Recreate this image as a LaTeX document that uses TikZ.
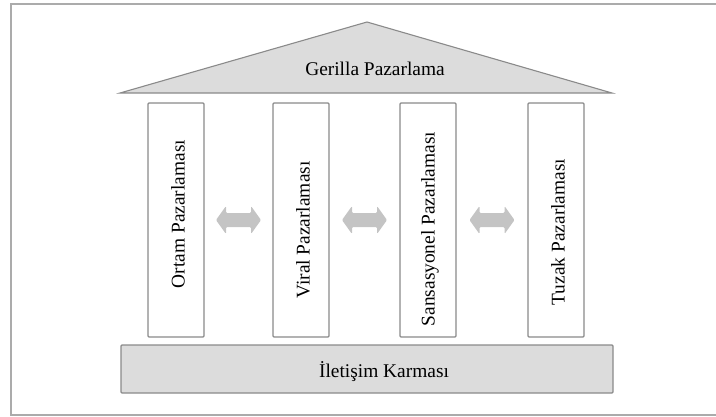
\documentclass[tikz,border=0pt]{standalone}
\usepackage{fontspec}
\setmainfont{Liberation Serif}
\usetikzlibrary{calc}
\definecolor{edgegray}{HTML}{8A8A8A}
\definecolor{panelgray}{HTML}{DCDCDC}
\definecolor{arrowgray}{HTML}{C4C4C4}
\definecolor{framegray}{HTML}{ABABAB}
\tikzset{
  label text/.style={font=\fontsize{19.4}{22}\selectfont, text=black, inner sep=0pt},
  pillar/.style={draw=edgegray, line width=1.1pt, fill=white, rounded corners=1pt,
                 minimum width=56pt, minimum height=234pt, inner sep=0pt},
  panel/.style={draw=edgegray, line width=1.1pt, fill=panelgray},
  % block double arrow, centred on the pic's position
  pics/linkarrow/.style={code={
    \fill[arrowgray, rounded corners=1.2pt]
      (-22.5,0) -- (-12.5,-14) -- (-12.5,-7) -- (12.5,-7) -- (12.5,-14)
      -- (22.5,0) -- (12.5,14) -- (12.5,7) -- (-12.5,7) -- (-12.5,14) -- cycle;
  }}
}
\begin{document}
\begin{tikzpicture}[x=1pt, y=-1pt]
\useasboundingbox (0,0) rectangle (716,416);
% outer frame (open on the right)
\draw[framegray, line width=1.6pt] (740,4) -- (11,4) -- (11,415) -- (740,415);
% roof
\coordinate (apex) at (367,22);
\coordinate (eaveL) at (120,93);
\coordinate (eaveR) at (612,93);
\draw[panel, line join=miter] (eaveL) -- (apex) -- (eaveR) -- cycle;
\node[label text, anchor=base] (roof) at (375,75) {Gerilla Pazarlama};
% pillars
\node[pillar] (p1) at (176,220) {};
\node[pillar] (p2) at (301,220) {};
\node[pillar] (p3) at (428,220) {};
\node[pillar] (p4) at (556,220) {};
\node[label text, rotate=90] (t1) at (178,214) {Ortam Pazarlaması};
\node[label text, rotate=90] (t2) at (303,230) {Viral Pazarlaması};
\node[label text, rotate=90] (t3) at (430,229) {Sansasyonel Pazarlaması};
\node[label text, rotate=90] (t4) at (558,232) {Tuzak Pazarlaması};
% links between pillars
\coordinate (a12) at ($(p1.east)!0.5!(p2.west)$);
\coordinate (a23) at ($(p2.east)!0.5!(p3.west)$);
\coordinate (a34) at ($(p3.east)!0.5!(p4.west)$);
\pic at (a12) {linkarrow};
\pic at (a23) {linkarrow};
\pic at (a34) {linkarrow};
% foundation
\node[panel, rounded corners=1pt, minimum width=492pt, minimum height=48pt, inner sep=0pt] (base) at (367,369) {};
\node[label text, anchor=base] (basetext) at (384,377) {İletişim Karması};
\end{tikzpicture}
\end{document}
